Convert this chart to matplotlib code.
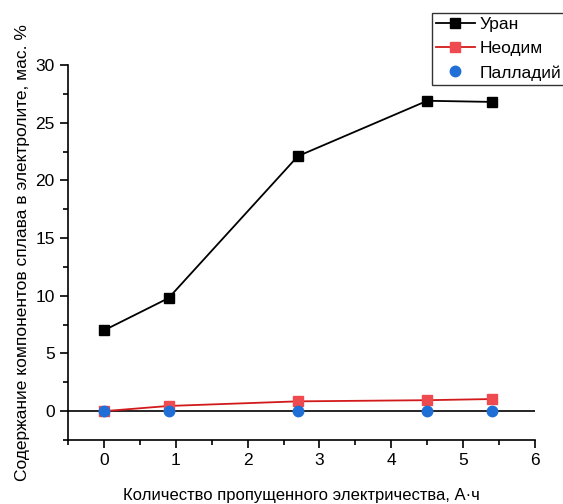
import matplotlib
matplotlib.use("Agg")
import matplotlib.pyplot as plt
from matplotlib.ticker import MultipleLocator

plt.rcParams['font.family'] = ['Liberation Sans', 'DejaVu Sans']

# данные
charge = [0, 0.9, 2.7, 4.5, 5.4]
uranium = [7.0, 9.8, 22.1, 26.9, 26.8]
neodymium = [0.0, 0.45, 0.85, 0.95, 1.05]
palladium = [0.0, 0.0, 0.0, 0.0, 0.0]

fig = plt.figure(figsize=(5.63, 5.04), dpi=100)
ax = fig.add_axes([68 / 563, 64 / 504, 467 / 563, 375 / 504])

ax.axhline(0, color='black', lw=1.2, zorder=1)
ax.plot(charge, uranium, '-s', color='black', ms=7, lw=1.3, label='Уран', zorder=3)
ax.plot(charge, neodymium, '-s', color='#d31a1a', mfc='#ef4a50', mec='#ef4a50',
        ms=7, lw=1.3, label='Неодим', zorder=3)
ax.plot(charge, palladium, 'o', color='#1f6fd6', ms=7.5, lw=0, label='Палладий', zorder=4)

ax.set_xlim(-0.5, 6)
ax.set_ylim(-2.5, 30)
ax.xaxis.set_major_locator(MultipleLocator(1))
ax.xaxis.set_minor_locator(MultipleLocator(0.5))
ax.yaxis.set_major_locator(MultipleLocator(5))
ax.yaxis.set_minor_locator(MultipleLocator(2.5))

ax.spines['top'].set_visible(False)
ax.spines['right'].set_visible(False)
ax.spines['left'].set_linewidth(1.2)
ax.spines['bottom'].set_linewidth(1.2)
ax.tick_params(which='major', direction='out', length=6, width=1.2, labelsize=12.5)
ax.tick_params(which='minor', direction='out', length=3.5, width=1.2)

ax.set_xlabel('Количество пропущенного электричества, А·ч', fontsize=12, labelpad=14)
ax.set_ylabel('Содержание компонентов сплава в электролите, мас. %', fontsize=12.5, labelpad=4)

leg = ax.legend(loc='upper left', bbox_to_anchor=(432 / 563, 1 - 13 / 504),
                bbox_transform=fig.transFigure, fontsize=12.5, frameon=True,
                fancybox=False, edgecolor='black', borderpad=0.25,
                handlelength=2.2, handletextpad=0.3, labelspacing=0.5,
                borderaxespad=0)
leg.get_frame().set_linewidth(1.0)

fig.savefig('out.png', dpi=100)
plt.close(fig)
